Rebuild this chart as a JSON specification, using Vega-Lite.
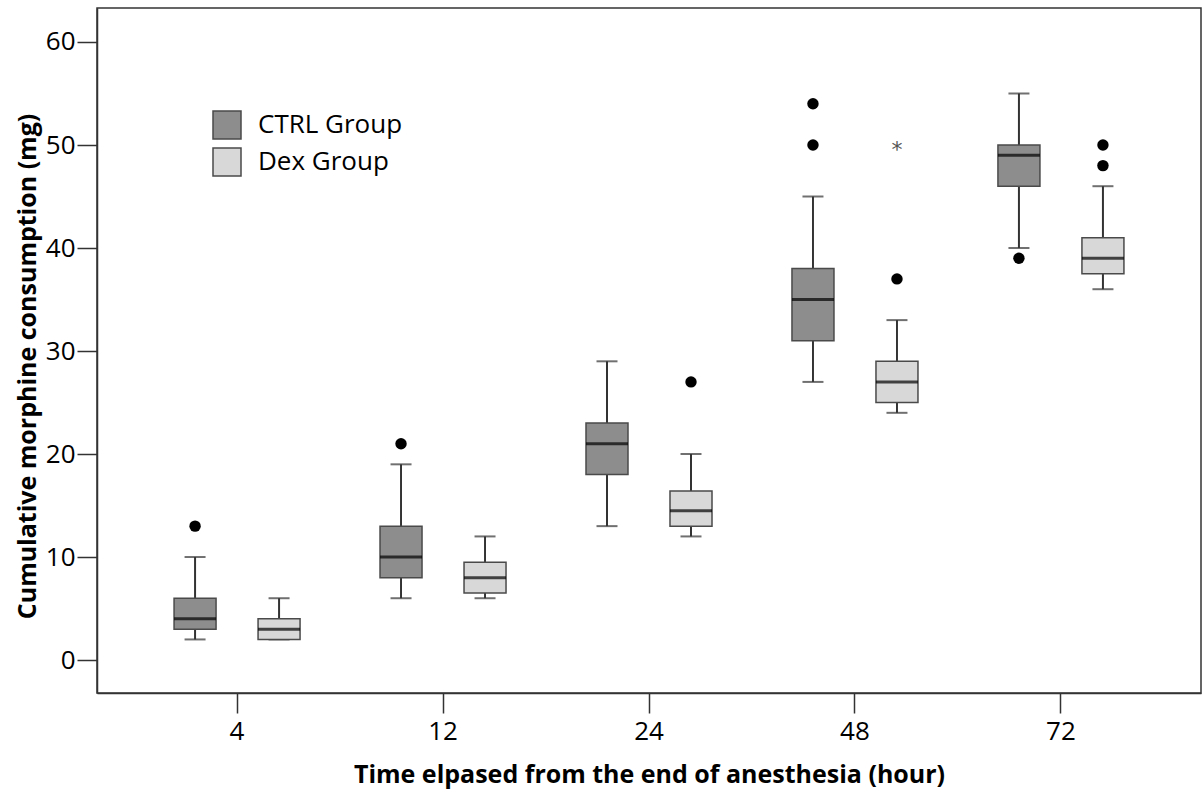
{
  "$schema": "https://vega.github.io/schema/vega-lite/v6.json",
  "autosize": "none",
  "width": 1104,
  "height": 685,
  "padding": {"left": 97, "top": 8, "right": 3, "bottom": 100},
  "background": "white",
  "config": {
    "view": {"stroke": "#333333", "strokeWidth": 1.5},
    "font": "Open Sans"
  },
  "datasets": {
    "boxes": [
      {"time": "4", "group": "CTRL Group", "lower": 2, "q1": 3, "median": 4, "q3": 6, "upper": 10},
      {"time": "4", "group": "Dex Group", "lower": 2, "q1": 2, "median": 3, "q3": 4, "upper": 6},
      {"time": "12", "group": "CTRL Group", "lower": 6, "q1": 8, "median": 10, "q3": 13, "upper": 19},
      {"time": "12", "group": "Dex Group", "lower": 6, "q1": 6.5, "median": 8, "q3": 9.5, "upper": 12},
      {"time": "24", "group": "CTRL Group", "lower": 13, "q1": 18, "median": 21, "q3": 23, "upper": 29},
      {"time": "24", "group": "Dex Group", "lower": 12, "q1": 13, "median": 14.5, "q3": 16.4, "upper": 20},
      {"time": "48", "group": "CTRL Group", "lower": 27, "q1": 31, "median": 35, "q3": 38, "upper": 45},
      {"time": "48", "group": "Dex Group", "lower": 24, "q1": 25, "median": 27, "q3": 29, "upper": 33},
      {"time": "72", "group": "CTRL Group", "lower": 40, "q1": 46, "median": 49, "q3": 50, "upper": 55},
      {"time": "72", "group": "Dex Group", "lower": 36, "q1": 37.5, "median": 39, "q3": 41, "upper": 46}
    ],
    "outliers": [
      {"time": "4", "group": "CTRL Group", "value": 13},
      {"time": "12", "group": "CTRL Group", "value": 21},
      {"time": "24", "group": "Dex Group", "value": 27},
      {"time": "48", "group": "CTRL Group", "value": 54},
      {"time": "48", "group": "CTRL Group", "value": 50},
      {"time": "48", "group": "Dex Group", "value": 37},
      {"time": "72", "group": "CTRL Group", "value": 39},
      {"time": "72", "group": "Dex Group", "value": 50},
      {"time": "72", "group": "Dex Group", "value": 48}
    ],
    "extremes": [
      {"time": "48", "group": "Dex Group", "value": 50, "symbol": "*"}
    ]
  },
  "encoding": {
    "x": {
      "field": "time", "type": "nominal",
      "sort": ["4", "12", "24", "48", "72"],
      "scale": {"domain": ["4", "12", "24", "48", "72"], "paddingInner": 0, "paddingOuter": 0.18},
      "axis": {
        "title": "Time elpased from the end of anesthesia (hour)",
        "titleFont": "Open Sans", "titleFontSize": 25, "titleFontWeight": "bold", "titleColor": "#000000",
        "titlePadding": 18,
        "labelFont": "Open Sans", "labelFontSize": 26, "labelColor": "#000000", "labelAngle": 0,
        "labelPadding": 5,
        "tickSize": 20, "tickColor": "#333333", "tickWidth": 1.5,
        "domainColor": "#333333", "domainWidth": 1.5, "grid": false
      }
    },
    "xOffset": {
      "field": "group", "type": "nominal",
      "scale": {"domain": ["CTRL Group", "Dex Group"], "paddingInner": 0, "paddingOuter": 0.226}
    }
  },
  "layer": [
    {
      "data": {"name": "boxes"},
      "mark": {"type": "rule", "stroke": "#333333", "strokeWidth": 2},
      "encoding": {
        "y": {
          "field": "lower", "type": "quantitative",
          "scale": {"domain": [-3.2, 63.3], "nice": false, "zero": false},
          "axis": {
            "values": [0, 10, 20, 30, 40, 50, 60],
            "title": "Cumulative morphine consumption (mg)",
            "titleFont": "Open Sans", "titleFontSize": 25, "titleFontWeight": "bold", "titleColor": "#000000",
            "titleX": -70, "titleY": 358, "titleAngle": -90, "titleAlign": "center", "titleBaseline": "middle",
            "labelFont": "Open Sans", "labelFontSize": 26, "labelColor": "#000000",
            "labelPadding": 2,
            "tickSize": 20, "tickColor": "#333333", "tickWidth": 1.5,
            "domainColor": "#333333", "domainWidth": 1.5, "grid": false
          }
        },
        "y2": {"field": "upper"}
      }
    },
    {
      "data": {"name": "boxes"},
      "mark": {"type": "tick", "color": "#333333", "size": 21, "thickness": 2, "orient": "horizontal"},
      "encoding": {"y": {"field": "lower", "type": "quantitative"}}
    },
    {
      "data": {"name": "boxes"},
      "mark": {"type": "tick", "color": "#333333", "size": 21, "thickness": 2, "orient": "horizontal"},
      "encoding": {"y": {"field": "upper", "type": "quantitative"}}
    },
    {
      "data": {"name": "boxes"},
      "mark": {"type": "bar", "size": 42, "stroke": "#4a4a4a", "strokeWidth": 1.5},
      "encoding": {
        "y": {"field": "q1", "type": "quantitative"},
        "y2": {"field": "q3"},
        "fill": {
          "field": "group", "type": "nominal",
          "scale": {"domain": ["CTRL Group", "Dex Group"], "range": ["#8d8d8d", "#d8d8d8"]},
          "legend": {
            "orient": "none", "legendX": 115, "legendY": 102,
            "title": null, "symbolType": "square", "symbolSize": 784,
            "symbolStrokeColor": "#4a4a4a", "symbolStrokeWidth": 1.5, "symbolOpacity": 1,
            "labelFont": "Open Sans", "labelFontSize": 26, "labelColor": "#000000",
            "labelOffset": 16, "rowPadding": 3, "padding": 0
          }
        }
      }
    },
    {
      "data": {"name": "boxes"},
      "mark": {"type": "tick", "color": "#000000", "size": 42, "thickness": 3, "orient": "horizontal"},
      "encoding": {"y": {"field": "median", "type": "quantitative"}}
    },
    {
      "data": {"name": "outliers"},
      "mark": {"type": "point", "shape": "circle", "filled": true, "color": "#000000", "opacity": 1, "size": 130},
      "encoding": {"y": {"field": "value", "type": "quantitative"}}
    },
    {
      "data": {"name": "extremes"},
      "mark": {"type": "text", "font": "DejaVu Sans", "fontSize": 22, "color": "#555555", "baseline": "middle", "dy": 5},
      "encoding": {
        "y": {"field": "value", "type": "quantitative"},
        "text": {"field": "symbol", "type": "nominal"}
      }
    }
  ]
}
